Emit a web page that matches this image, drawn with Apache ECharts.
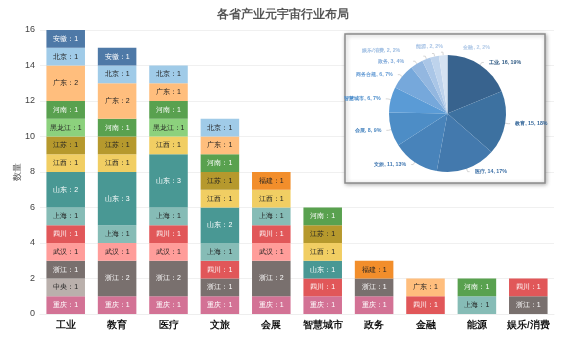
<!DOCTYPE html>
<html><head><meta charset="utf-8">
<script src="https://cdn.jsdelivr.net/npm/echarts@6/dist/echarts.min.js"></script>
<style>html,body{margin:0;padding:0;background:#fff}#c{width:566px;height:337px}</style>
</head><body><div id="c"></div>
<script>
const categories = ['工业','教育','医疗','文旅','会展','智慧城市','政务','金融','能源','娱乐/消费'];
const yTicks = [0,2,4,6,8,10,12,14,16];
// provinces bottom -> top in stack
const provinces = ['重庆','中央','浙江','武汉','四川','上海','山东','江西','江苏','黑龙江','河南','广东','福建','北京','安徽'];
const v重庆 = [1,1,1,1,1,1,1,null,null,null];
const v中央 = [1,null,null,null,null,null,null,null,null,null];
const v浙江 = [1,2,2,1,2,null,1,null,null,1];
const v武汉 = [1,1,1,null,1,null,null,null,null,null];
const v四川 = [1,null,1,1,1,1,null,1,null,1];
const v上海 = [1,1,1,1,1,null,null,null,1,null];
const v山东 = [2,3,3,2,null,1,null,null,null,null];
const v江西 = [1,1,1,1,1,1,null,null,null,null];
const v江苏 = [1,1,null,1,null,1,null,null,null,null];
const v黑龙江 = [1,null,1,null,null,null,null,null,null,null];
const v河南 = [1,1,1,1,null,1,null,null,1,null];
const v广东 = [2,2,1,1,null,null,null,1,null,null];
const v福建 = [null,null,null,null,1,null,1,null,null,null];
const v北京 = [1,1,1,1,null,null,null,null,null,null];
const v安徽 = [1,1,null,null,null,null,null,null,null,null];
const provinceValues = [v重庆,v中央,v浙江,v武汉,v四川,v上海,v山东,v江西,v江苏,v黑龙江,v河南,v广东,v福建,v北京,v安徽];

const pieNames = ['工业','教育','医疗','文旅','会展','智慧城市','商务合规','政务','娱乐/消费','能源','金融'];
const pieValues = [16,15,14,11,8,6,6,3,2,2,2];

// styles
const provColors = {'安徽':'#4E79A7','北京':'#A0CBE8','福建':'#F28E2B','广东':'#FFBE7D','河南':'#59A14F','黑龙江':'#8CD17D','江苏':'#B6992D','江西':'#F1CE63','山东':'#499894','上海':'#86BCB6','四川':'#E15759','武汉':'#FF9D9A','浙江':'#79706E','中央':'#BAB0AC','重庆':'#D37295'};
const darkText = {'北京':1,'广东':1,'黑龙江':1,'江苏':1,'江西':1,'上海':1,'武汉':1,'中央':1,'福建':1};
const pieColors = ['#38638e','#3d71a0','#4379ad','#4883ba','#4d8dc6','#5a9bd6','#76a8db','#93b7e0','#aac6e7','#bed3ec','#d4e2f2'];
const pieLabelColors = ['#2f5a84','#35679a','#3d70a6','#4379b2','#4a86c0','#4f8fcc','#6a9fd6','#86addb','#9dbde2','#a9c4e6','#b3cbe8'];
const pieLabelShift = {7:[-4,0], 8:[-18,-6], 9:[16,-6.5], 10:[54,-5]};

const series = provinces.map((p,i)=>({
  name:p, type:'bar', stack:'s', barWidth:'75%',
  data: provinceValues[i],
  itemStyle:{color:provColors[p]},
  label:{show:true, position:'inside', formatter:'{a}：{c}', fontSize:7,
    color: darkText[p] ? '#222' : '#fff'},
  emphasis:{disabled:true}
}));

series.push({
  type:'pie', center:[447.5,113.5], radius:58.5, z:20,
  avoidLabelOverlap:false, percentPrecision:0,
  data: pieNames.map((n,i)=>({name:n, value:pieValues[i],
    itemStyle:{color:pieColors[i], borderWidth:0, borderColor:pieColors[i]}, label:{color:pieLabelColors[i]}})),
  itemStyle:{borderWidth:0},
  label:{formatter:'{b}, {c}, {d}%', fontSize:5.3, fontWeight:'bold'},
  labelLine:{length:3, length2:2, lineStyle:{width:0.8, color:'#ccc'}},
  labelLayout:function(p){ const s = pieLabelShift[p.dataIndex]; return s ? {dx:s[0], dy:s[1]} : {}; },
  emphasis:{disabled:true}
});

const chart = echarts.init(document.getElementById('c'));
chart.setOption({
  animation:false,
  title:{text:'各省产业元宇宙行业布局', left:'center', top:4, textStyle:{fontSize:11.5, fontWeight:'bold', color:'#555'}},
  grid:{left:40, right:12, top:30, bottom:23},
  graphic:[{type:'rect', shape:{x:345,y:34,width:200,height:149}, z:10,
    style:{fill:'#fff', stroke:'#8c8c8c', lineWidth:1.5, shadowBlur:4, shadowColor:'rgba(0,0,0,0.3)', shadowOffsetX:1, shadowOffsetY:1}}],
  xAxis:{type:'category', data:categories,
    axisLine:{lineStyle:{color:'#eee'}}, axisTick:{show:false},
    axisLabel:{interval:0, fontSize:9.5, fontWeight:'bold', color:'#111', margin:6}},
  yAxis:{type:'value', min:yTicks[0], max:yTicks[yTicks.length-1], interval:2,
    name:'数量', nameLocation:'middle', nameGap:18, nameMoveOverlap:false, nameTextStyle:{fontSize:8.5, color:'#555'},
    axisLabel:{fontSize:9, color:'#444', margin:5},
    splitLine:{lineStyle:{color:'#f0f0f0'}}},
  series: series
});
</script></body></html>
